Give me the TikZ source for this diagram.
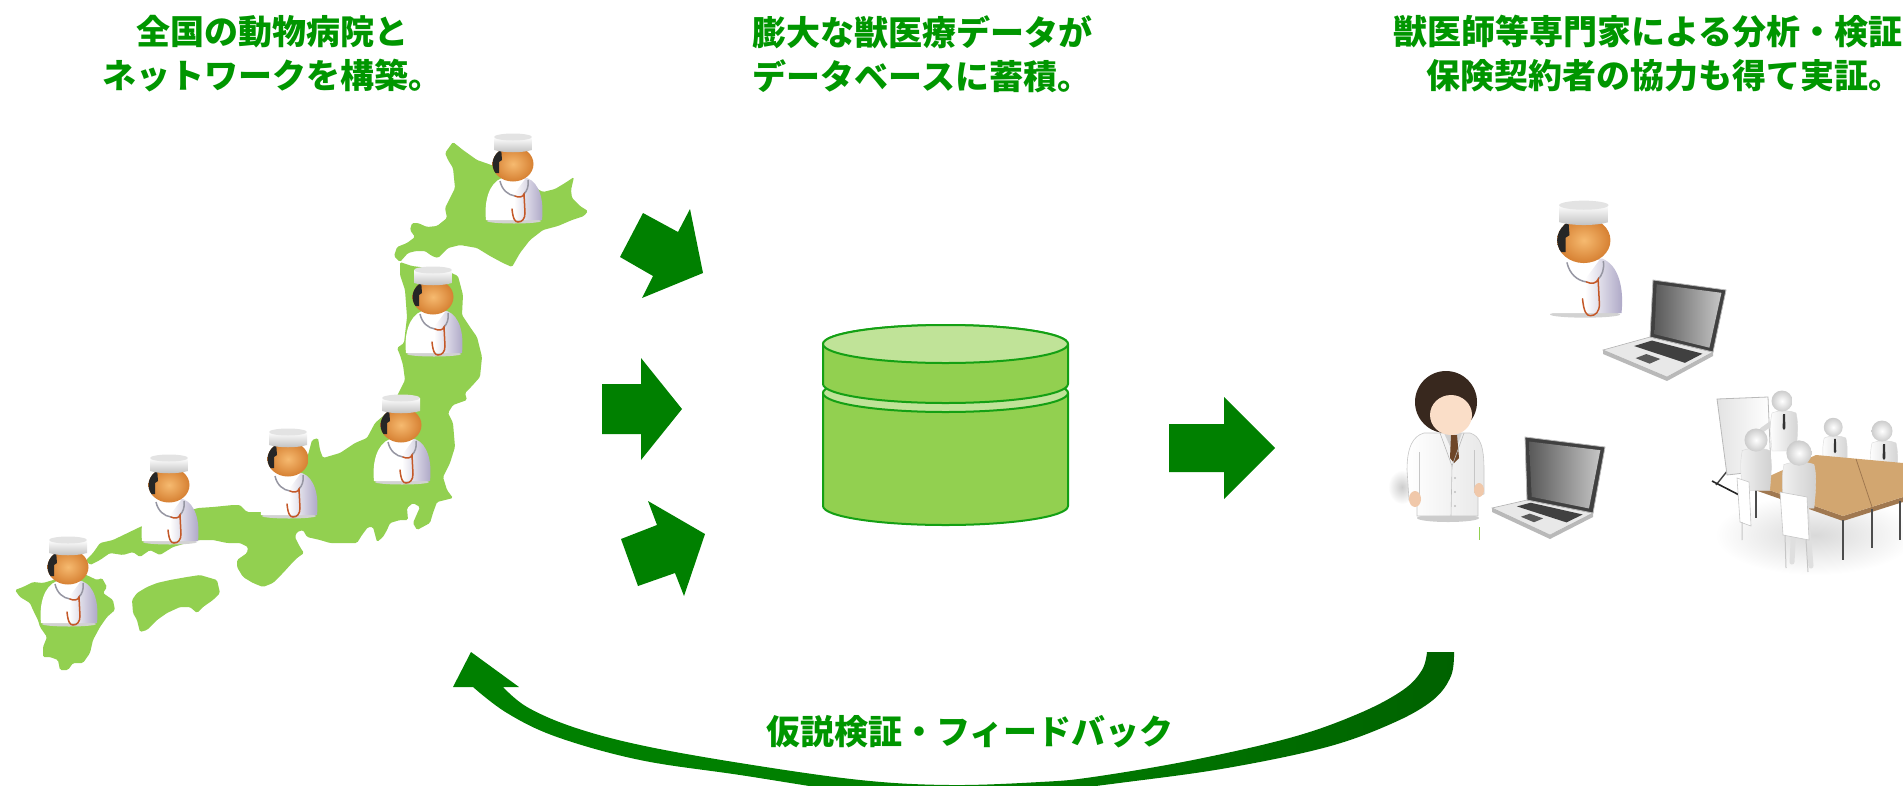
\documentclass[tikz,border=0pt]{standalone}
\usepackage{fontspec}
\newfontfamily\jpfont{Noto Sans CJK JP}
\usetikzlibrary{calc}

\definecolor{titlegreen}{RGB}{0,150,0}
\definecolor{arrowgreen}{RGB}{0,128,0}
\definecolor{arrowdark}{RGB}{0,98,0}
\definecolor{landgreen}{RGB}{146,208,80}
\definecolor{dbtop}{RGB}{192,227,152}
\definecolor{dbline}{RGB}{20,160,20}
\definecolor{skinorange}{RGB}{214,128,50}
\definecolor{skinlight}{RGB}{246,186,112}
\definecolor{coatshade}{RGB}{170,164,196}
\definecolor{stethgray}{RGB}{150,150,162}
\definecolor{stethorange}{RGB}{196,88,40}
\definecolor{hairbrown}{RGB}{56,40,30}
\definecolor{faceskin}{RGB}{250,222,200}
\definecolor{handskin}{RGB}{240,200,170}
\definecolor{tiebrown}{RGB}{110,70,40}
\definecolor{woodtan}{RGB}{210,166,112}
\definecolor{woodedge}{RGB}{160,120,80}

\tikzset{
  headtext/.style={font=\jpfont\bfseries\fontsize{34}{40}\selectfont, text=titlegreen, inner sep=0pt},
  land/.style={fill=landgreen, rounded corners=1.5pt},
  blockarrow/.style={fill=arrowgreen},
  dbpart/.style={fill=landgreen, draw=dbline, line width=2pt, line join=round},
  dblid/.style={fill=dbtop, draw=dbline, line width=2pt},
  % veterinarian icon: white coat, cap and stethoscope
  vetdoc/.pic={
    \fill[gray!35] (27,88) ellipse [x radius=27pt, y radius=2.5pt];
    \shade[left color=white, right color=coatshade, middle color=white]
      (-1,87) .. controls (-3,68) and (2,50) .. (15,45) -- (40,45)
      .. controls (53,50) and (57,68) .. (55,87) -- cycle;
    \fill[white] (17,46) -- (27,61) -- (38,46) -- cycle;
    \draw[stethgray, line width=1.5pt] (13,48) .. controls (15,57) and (21,62) .. (28,63);
    \draw[stethgray, line width=1.5pt] (41,47) .. controls (42,53) and (40,58) .. (37,61);
    \draw[stethorange, line width=1.5pt, line cap=round]
      (28,63) .. controls (32,65) and (36,64) .. (37,61) -- (38,80)
      .. controls (38,86) and (35,89) .. (31,89) .. controls (28,89) and (26,86) .. (25,76);
    \shade[inner color=skinlight, outer color=skinorange] (26,31) ellipse [x radius=20.5pt, y radius=17.5pt];
    \begin{scope}
      \clip (26,31) ellipse [x radius=20.5pt, y radius=17.5pt];
      \fill[black!85] (4,14) -- (14,14) -- (15,27) -- (12,29) -- (12,40) -- (4,40) -- cycle;
    \end{scope}
    \shade[top color=white, bottom color=gray!50]
      (7,4) -- (7,17) .. controls (17,20) and (35,20) .. (45,17) -- (45,4) -- cycle;
    \fill[gray!22] (26,4) ellipse [x radius=19pt, y radius=3.5pt];
  },
  % white 3D figure facing the viewer
  personfront/.pic={
    \shade[left color=white, right color=gray!35, draw=gray!30, line width=0.4pt]
      (-12,10) .. controls (-15,22) and (-13,36) .. (-12,48) -- (12,48)
      .. controls (13,36) and (15,22) .. (12,10) .. controls (5,7) and (-5,7) .. cycle;
    \fill[black!80] (-1,11) -- (1,11) -- (1.4,25) -- (0,27) -- (-1.4,25) -- cycle;
    \shade[inner color=white, outer color=gray!40] (-2,-2) circle (10.5pt);
  },
  % white 3D figure seen from behind
  personback/.pic={
    \shade[left color=gray!10, right color=gray!38, draw=gray!30, line width=0.4pt]
      (-13,10) .. controls (-16,22) and (-14,36) .. (-13,48) -- (13,48)
      .. controls (14,36) and (16,22) .. (13,10) .. controls (5,7) and (-5,7) .. cycle;
    \shade[inner color=white, outer color=gray!40] (0,0) circle (11pt);
  },
}

% a point on the laptop base, by fractions along its width and depth
\newcommand{\lappt}[3]{%
  \coordinate (tmpb) at ($(lBL)!#2!(lBR)$);
  \coordinate (tmpf) at ($(lFL)!#2!(lFR)$);
  \coordinate (#1) at ($(tmpb)!#3!(tmpf)$);
}
% laptop drawn from the named corners lTL lTR lBR lBL lFL lFR
\newcommand{\drawlaptop}{%
  \fill[gray!55] (lFL) -- (lFR) -- (lBR) -- ++(0,4) -- ($(lFR)+(0,4)$) -- ($(lFL)+(0,4)$) -- cycle;
  \filldraw[fill=gray!18, draw=gray!60, line width=0.6pt] (lBL) -- (lBR) -- (lFR) -- (lFL) -- cycle;
  \lappt{k1}{0.12}{0.12}\lappt{k2}{0.92}{0.12}\lappt{k3}{0.92}{0.5}\lappt{k4}{0.12}{0.5}
  \fill[black!75] (k1) -- (k2) -- (k3) -- (k4) -- cycle;
  \lappt{p1}{0.4}{0.62}\lappt{p2}{0.62}{0.62}\lappt{p3}{0.62}{0.85}\lappt{p4}{0.4}{0.85}
  \fill[black!65] (p1) -- (p2) -- (p3) -- (p4) -- cycle;
  \filldraw[fill=black!75, draw=gray!55, line width=0.8pt] (lBL) -- (lTL) -- (lTR) -- (lBR) -- cycle;
  \shade[left color=black!65, right color=gray!45]
    ($(lTL)!0.06!(lBR)$) -- ($(lTR)!0.06!(lBL)$) -- ($(lBR)!0.06!(lTL)$) -- ($(lBL)!0.06!(lTR)$) -- cycle;
}

\begin{document}
\begin{tikzpicture}[x=1pt, y=-1pt]
\useasboundingbox (0,0) rectangle (1903,785);
\clip (0,0) rectangle (1903,785);

% ---------------- map of Japan ----------------
\fill[land] (453,142) -- (463,150) -- (477,160) -- (500,168) -- (525,182) -- (543,192) -- (555,189)
  -- (565,183) -- (574,177) -- (571,190) -- (572,198) -- (580,206) -- (588,211) -- (584,216)
  -- (572,220) -- (558,226) -- (543,230) -- (530,240) -- (520,253) -- (512,267) -- (503,263)
  -- (490,256) -- (477,248) -- (460,245) -- (448,248) -- (438,258) -- (432,256) -- (425,251)
  -- (416,251) -- (408,253) -- (400,262) -- (394,256) -- (397,247) -- (407,243) -- (415,237)
  -- (410,230) -- (412,223) -- (418,223) -- (427,227) -- (437,226) -- (447,218) -- (445,208)
  -- (450,198) -- (455,188) -- (453,168) -- (448,160) -- (445,153) -- cycle;
\fill[land] (400,262) -- (412,266) -- (428,268) -- (445,270) -- (458,276) -- (463,295) -- (462,315)
  -- (470,327) -- (477,337) -- (482,357) -- (480,377) -- (472,386) -- (465,393) -- (467,400)
  -- (453,405) -- (448,413) -- (453,423) -- (455,447) -- (450,463) -- (443,477) -- (447,490)
  -- (453,498) -- (437,502) -- (433,513) -- (430,523) -- (417,530) -- (413,523) -- (420,507)
  -- (413,503) -- (407,508) -- (408,520) -- (400,520) -- (390,523) -- (387,530) -- (383,537)
  -- (377,542) -- (373,527) -- (368,527) -- (362,535) -- (357,543) -- (343,543) -- (330,543)
  -- (320,540) -- (307,537) -- (303,530) -- (297,532) -- (295,537) -- (300,547) -- (304,553)
  -- (297,558) -- (293,562) -- (283,573) -- (273,583) -- (263,587) -- (253,583) -- (243,577)
  -- (237,567) -- (237,560) -- (247,553) -- (248,547) -- (240,543) -- (227,543) -- (213,540)
  -- (200,540) -- (187,543) -- (173,547) -- (160,555) -- (150,550) -- (140,557) -- (133,552)
  -- (123,555) -- (110,553) -- (100,560) -- (90,565) -- (86,560) -- (93,553) -- (100,543)
  -- (113,540) -- (140,527) -- (157,520) -- (175,515) -- (198,508) -- (213,507) -- (233,505)
  -- (240,505) -- (247,512) -- (262,512) -- (285,495) -- (300,475) -- (308,455) -- (312,440)
  -- (318,438) -- (320,450) -- (323,458) -- (340,453) -- (355,443) -- (367,438) -- (375,423)
  -- (390,410) -- (405,380) -- (403,365) -- (400,355) -- (397,348) -- (404,343) -- (407,317)
  -- (405,290) -- (400,275) -- cycle;
\fill[land] (132,600) -- (137,593) -- (147,587) -- (157,583) -- (170,580) -- (187,577) -- (200,575)
  -- (217,580) -- (220,593) -- (213,600) -- (203,607) -- (197,613) -- (190,607) -- (180,607)
  -- (167,613) -- (157,620) -- (147,630) -- (140,632) -- (137,620) -- (133,613) -- cycle;
\fill[land] (15,590) -- (23,587) -- (33,582) -- (43,583) -- (60,578) -- (80,572) -- (97,580)
  -- (102,578) -- (107,587) -- (103,593) -- (113,600) -- (115,610) -- (107,617) -- (100,627)
  -- (93,640) -- (90,653) -- (83,663) -- (73,663) -- (68,670) -- (60,670) -- (58,660)
  -- (50,657) -- (43,657) -- (43,647) -- (47,637) -- (40,627) -- (38,620) -- (33,610)
  -- (30,603) -- (20,597) -- cycle;

% veterinarians across the country
\pic (vHokkaido) at (487,133) {vetdoc};
\pic (vTohoku) at (407,266) {vetdoc};
\pic (vKanto) at (375,394) {vetdoc};
\pic (vKinki) at (262,428) {vetdoc};
\pic (vChugoku) at (143,454) {vetdoc};
\pic (vKyushu) at (42,536) {vetdoc};

% ---------------- arrows into the database ----------------
\fill[blockarrow] (643,213) -- (678,232) -- (690,209) -- (703,273) -- (642,298) -- (653,276) -- (620,257) -- cycle;
\fill[blockarrow] (602,384) -- (641,384) -- (641,358) -- (682,409) -- (641,460) -- (641,434) -- (602,434) -- cycle;
\fill[blockarrow] (621,539) -- (657,525) -- (648,501) -- (705,534) -- (684,596) -- (675,573) -- (638,586) -- cycle;

% ---------------- database cylinder ----------------
\path[dbpart] (823,393) -- (823,506) arc[start angle=180, end angle=360, x radius=122.5pt, y radius=19pt]
  -- (1068,393) arc[start angle=0, end angle=180, x radius=122.5pt, y radius=19pt] -- cycle;
\path[dblid] (945.5,393) ellipse [x radius=122.5pt, y radius=19pt];
\path[dbpart] (823,344) -- (823,384) arc[start angle=180, end angle=360, x radius=122.5pt, y radius=19pt]
  -- (1068,344) arc[start angle=0, end angle=180, x radius=122.5pt, y radius=19pt] -- cycle;
\path[dblid] (945.5,344) ellipse [x radius=122.5pt, y radius=19pt];
\node[inner sep=0pt] (db) at (945.5,425) {};

% arrow from the database to the analysts
\fill[blockarrow] (1169,424) -- (1224,424) -- (1224,397) -- (1275,448) -- (1224,499) -- (1224,472) -- (1169,472) -- cycle;

% ---------------- analysts ----------------
\pic[scale=1.3] (vExpert) at (1550,200) {vetdoc};

\coordinate (lTL) at (1653,280); \coordinate (lTR) at (1726,290);
\coordinate (lBR) at (1713,352); \coordinate (lBL) at (1650,337);
\coordinate (lFL) at (1603,350); \coordinate (lFR) at (1667,377);
\drawlaptop

% doctor in a lab coat
\shade[inner color=gray!40, outer color=white] (1402,487) ellipse [x radius=14pt, y radius=17pt];
\fill[gray!40] (1448,518) ellipse [x radius=31pt, y radius=4pt];
\fill[handskin] (1441,426) rectangle (1455,438);
\shade[left color=white, right color=gray!18, draw=gray!45, line width=0.6pt]
  (1424,433) -- (1470,433) .. controls (1480,436) and (1484,446) .. (1484,470) -- (1484,494)
  -- (1478,496) -- (1478,516) -- (1417,516) -- (1417,500) -- (1409,500) -- (1407,470)
  .. controls (1407,447) and (1413,436) .. cycle;
\fill[gray!35] (1444,433) -- (1462,433) -- (1454,455) -- cycle;
\fill[tiebrown] (1451,435) -- (1457,435) -- (1459,458) -- (1454,463) -- (1450,458) -- cycle;
\draw[gray!55, line width=0.6pt] (1440,433) -- (1452,466) -- (1464,433);
\draw[gray!50, line width=0.6pt] (1452,466) -- (1451,516);
\draw[gray!45, line width=0.5pt] (1419,452) -- (1419,498) (1474,450) -- (1474,493);
\fill[gray!50] (1455,478) circle (1.2pt) (1455,492) circle (1.2pt) (1455,506) circle (1.2pt);
\fill[handskin] (1415,499) ellipse [x radius=6pt, y radius=8pt];
\fill[handskin] (1479,490) ellipse [x radius=5pt, y radius=7pt];
\fill[hairbrown] (1446,402) circle (31pt);
\fill[faceskin] (1451,415) ellipse [x radius=21pt, y radius=20pt];
\draw[landgreen, line width=1pt] (1479,527) -- (1479,540);

\coordinate (lTL) at (1525,437); \coordinate (lTR) at (1605,447);
\coordinate (lBR) at (1593,513); \coordinate (lBL) at (1527,500);
\coordinate (lFL) at (1492,508); \coordinate (lFR) at (1550,535);
\drawlaptop

% meeting around a table
\shade[inner color=gray!30, outer color=white] (1815,535) ellipse [x radius=100pt, y radius=40pt];
\draw[black!75, line width=1.4pt] (1728,470) -- (1716,485);
\draw[black!85, line width=1.6pt] (1712,481) -- (1745,498);
\shade[left color=gray!22, right color=white, draw=gray!55, line width=0.8pt]
  (1717,399) -- (1768,397) -- (1771,470) -- (1727,475) -- cycle;
\draw[gray!30, line width=5pt, line cap=round] (1776,420) -- (1762,430);
\pic (presenter) at (1784,403) {personfront};
\pic[scale=0.9] (memberA) at (1835,429) {personfront};
\pic (memberB) at (1884,433) {personfront};
\fill[woodedge] (1752,484) -- (1843,516) -- (1903,497) -- (1903,502) -- (1843,521) -- (1752,489) -- cycle;
\fill[woodtan] (1752,484) -- (1816,455) -- (1903,463) -- (1903,497) -- (1843,516) -- cycle;
\draw[woodedge, line width=0.8pt] (1856,459) -- (1872,507);
\draw[black!70, line width=1.8pt] (1843,520) -- (1843,560) (1872,509) -- (1872,548) (1900,501) -- (1900,540) (1756,488) -- (1756,518);
\draw[gray!25, line width=5pt, line cap=round] (1795,505) -- (1792,562) (1806,505) -- (1811,566);
\pic[scale=1.05] (memberC) at (1756,440) {personback};
\pic[scale=1.15] (memberD) at (1799,453) {personback};
\filldraw[fill=white, draw=gray!45, line width=0.6pt] (1737,478) -- (1749,482) -- (1751,526) -- (1740,522) -- cycle;
\filldraw[fill=white, draw=gray!45, line width=0.6pt] (1780,492) -- (1807,497) -- (1809,540) -- (1783,535) -- cycle;
\draw[gray!45, line width=1pt] (1785,535) -- (1786,568) (1806,540) -- (1808,572) (1742,522) -- (1742,540);

% ---------------- feedback arrow ----------------
\shade[left color=arrowgreen, right color=arrowdark, middle color=arrowgreen]
  (1454,652) -- plot[smooth, tension=0.6] coordinates {(1454,652) (1451,676) (1433,700) (1393,723)
    (1327,747) (1227,768) (1127,782) (1040,792) (950,797) (867,794) (740,775) (640,760)
    (557,737) (507,713) (473,687)}
  -- (453,687) -- (471,652) -- (519,687) -- (503,687)
  -- plot[smooth, tension=0.6] coordinates {(503,687) (527,707) (573,727) (640,745) (740,763)
    (860,780) (950,785) (1040,782) (1093,777) (1193,760) (1293,737) (1360,713) (1403,690)
    (1422,670) (1427,652)}
  -- cycle;

% ---------------- texts ----------------
\node[headtext] (t1a) at (272,32) {全国の動物病院と};
\node[headtext] (t1b) at (272,76) {ネットワークを構築。};
\node[headtext] (t2a) at (922,32) {膨大な獣医療データが};
\node[headtext] (t2b) at (922,76) {データベースに蓄積。};
\node[headtext, anchor=west] (t3a) at (1393,32) {獣医師等専門家による分析・検証};
\node[headtext, anchor=west] (t3b) at (1426,76) {保険契約者の協力も得て実証。};
\node[headtext] (fb) at (970,732) {仮説検証・フィードバック};
\end{tikzpicture}
\end{document}
